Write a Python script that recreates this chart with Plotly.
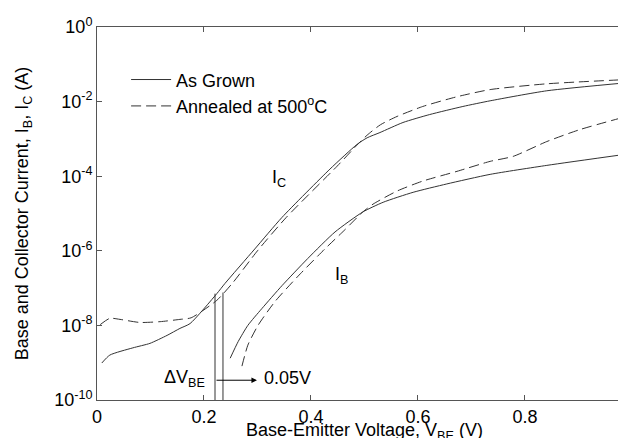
import plotly.graph_objects as go

# As grown - collector current
vbe_ic_grown = [0.009, 0.024, 0.067, 0.099, 0.131, 0.155, 0.174, 0.224, 0.239, 0.295, 0.346, 0.4355,
                0.486, 0.505, 0.529, 0.572, 0.622, 0.684, 0.735, 0.841, 0.99]
ic_grown = [9.8e-10, 1.6e-9, 2.5e-9, 3.3e-9, 5.4e-9, 8.3e-9, 1.12e-8, 7.1e-8, 1.32e-7, 1.12e-6, 7.9e-6, 1.55e-4,
            7.1e-4, 1.07e-3, 1.48e-3, 2.75e-3, 4.5e-3, 7.4e-3, 1.05e-2, 1.95e-2, 3.2e-2]

# Annealed at 500C - collector current
vbe_ic_ann = [0.006, 0.024, 0.043, 0.08, 0.118, 0.155, 0.176, 0.224, 0.254, 0.30, 0.354, 0.449,
              0.486, 0.505, 0.53, 0.561, 0.609, 0.673, 0.735, 0.841, 0.99]
ic_ann = [1.05e-8, 1.55e-8, 1.45e-8, 1.2e-8, 1.26e-8, 1.45e-8, 1.6e-8, 4.7e-8, 1.4e-7, 1.0e-6, 7.9e-6, 1.86e-4,
          6.8e-4, 1.26e-3, 2.4e-3, 4.0e-3, 7.4e-3, 1.35e-2, 2.1e-2, 3.0e-2, 3.9e-2]

# As grown - base current
vbe_ib_grown = [0.249, 0.264, 0.282, 0.308, 0.346, 0.394, 0.445, 0.497, 0.535, 0.591, 0.654,
                0.735, 0.841, 0.99]
ib_grown = [1.32e-9, 3.7e-9, 1.0e-8, 2.8e-8, 1.17e-7, 6.2e-7, 3.2e-6, 1.1e-5, 2.0e-5, 3.7e-5, 6.2e-5,
            1.12e-4, 1.95e-4, 3.9e-4]

# Annealed at 500C - base current
vbe_ib_ann = [0.271, 0.282, 0.301, 0.333, 0.376, 0.426, 0.462, 0.497, 0.516, 0.561, 0.609, 0.673,
              0.735, 0.778, 0.841, 0.903, 0.99]
ib_ann = [8.1e-10, 2.95e-9, 1.0e-8, 4.4e-8, 2.1e-7, 1.12e-6, 3.5e-6, 1.1e-5, 1.78e-5, 4.0e-5, 7.4e-5, 1.35e-4,
          2.5e-4, 3.4e-4, 8.5e-4, 1.78e-3, 4.0e-3]

# delta V_BE markers
dvbe_x = [0.2206, 0.2355]
dvbe_top = [7.1e-8, 7.6e-8]

x_ticks = [0, 0.2, 0.4, 0.6, 0.8]
x_ticktext = ["0", "0.2", "0.4", "0.6", "0.8"]
y_ticks = [1e-10, 1e-8, 1e-6, 1e-4, 1e-2, 1]
y_ticktext = ["10<sup>-10</sup>", "10<sup>-8</sup>", "10<sup>-6</sup>",
              "10<sup>-4</sup>", "10<sup>-2</sup>", "10<sup>0</sup>"]

line_col = '#333333'
axis_col = '#555555'
dash = '10px,5px'
font = dict(family="Liberation Sans, Arial, sans-serif", size=18, color='black')

fig = go.Figure()

fig.add_trace(go.Scatter(x=vbe_ic_grown, y=ic_grown, mode='lines', name='As Grown',
                         line=dict(color=line_col, width=1, shape='spline', smoothing=0.6)))
fig.add_trace(go.Scatter(x=vbe_ic_ann, y=ic_ann, mode='lines', name='Annealed at 500<sup>o</sup>C',
                         line=dict(color=line_col, width=1, dash=dash, shape='spline', smoothing=0.6)))
fig.add_trace(go.Scatter(x=vbe_ib_grown, y=ib_grown, mode='lines', showlegend=False,
                         line=dict(color=line_col, width=1, shape='spline', smoothing=0.6)))
fig.add_trace(go.Scatter(x=vbe_ib_ann, y=ib_ann, mode='lines', showlegend=False,
                         line=dict(color=line_col, width=1, dash=dash, shape='spline', smoothing=0.6)))

for xv, top in zip(dvbe_x, dvbe_top):
    fig.add_trace(go.Scatter(x=[xv, xv], y=[1e-10, top], mode='lines', showlegend=False,
                             line=dict(color=line_col, width=1)))

# arrow for the 0.05V shift
fig.add_annotation(x=0.299, y=-9.47, ax=dvbe_x[0], ay=-9.47, axref='x', ayref='y',
                   xref='x', yref='y', text='', showarrow=True, arrowhead=2,
                   arrowsize=1.1, arrowwidth=1, arrowcolor='black')
fig.add_annotation(x=0.308, y=-9.4, text="0.05V", showarrow=False, xanchor='left', font=font)
fig.add_annotation(x=0.205, y=-9.42, text="ΔV<sub>BE</sub>", showarrow=False, xanchor='right', font=font)
fig.add_annotation(x=0.323, y=-4.05, text="I<sub>C</sub>", showarrow=False, xanchor='left', font=font)
fig.add_annotation(x=0.442, y=-6.65, text="I<sub>B</sub>", showarrow=False, xanchor='left', font=font)

# x title as annotation so it can sit low (cut by the bottom edge like the original)
fig.add_annotation(x=0.505, y=-0.049, xref='paper', yref='paper', xanchor='center', yanchor='top',
                   text="Base-Emitter Voltage, V<sub>BE</sub> (V)", showarrow=False, font=font)

# page body adds an 8px margin, so the figure is 8px smaller than the window
fig.update_layout(
    width=618,
    height=430,
    margin=dict(l=89, r=0, t=19, b=38, autoexpand=False),
    paper_bgcolor='white',
    plot_bgcolor='white',
    font=font,
    showlegend=True,
    legend=dict(x=0.055, y=0.908, xanchor='left', yanchor='top', bgcolor='rgba(0,0,0,0)',
                font=font, itemwidth=40),
    xaxis=dict(
        range=[0, 0.989], tickvals=x_ticks, ticktext=x_ticktext,
        ticks='inside', ticklen=5, tickcolor=axis_col, showline=True, linecolor=axis_col,
        mirror='ticks', showgrid=False, zeroline=False,
    ),
    yaxis=dict(
        type='log', range=[-10, 0], tickvals=y_ticks, ticktext=y_ticktext,
        ticks='inside', ticklen=5, tickcolor=axis_col, showline=True, linecolor=axis_col,
        mirror=False, showgrid=False, zeroline=False,
        title=dict(text="Base and Collector Current, I<sub>B</sub>, I<sub>C</sub> (A)", standoff=20, font=font),
    ),
)

fig.write_html("out.html")
